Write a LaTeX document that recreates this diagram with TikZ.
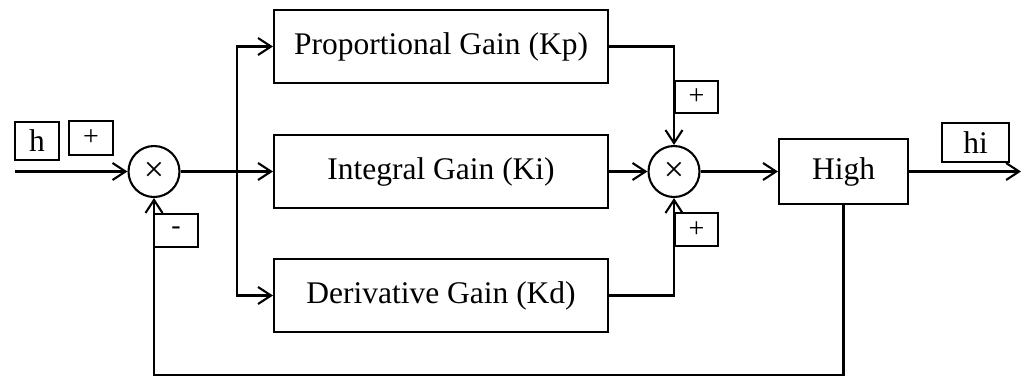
\documentclass[tikz,border=0pt]{standalone}
\usepackage{fontspec}
\setmainfont{Liberation Serif}
\usetikzlibrary{arrows.meta}
\begin{document}
\begin{tikzpicture}[x=1pt,y=-1pt,
  line width=2.1pt,
  blk/.style={draw, rectangle, inner sep=0pt, font=\fontsize{31.5}{36}\selectfont},
  tagbox/.style={draw, rectangle, inner sep=0pt, line width=1.8pt},
  bigtag/.style={tagbox, font=\fontsize{31.5}{36}\selectfont},
  smalltag/.style={tagbox, font=\fontsize{28}{30}\selectfont},
  junction/.style={draw, circle, inner sep=0pt, minimum size=51pt, font=\fontsize{36}{38}\selectfont},
  arr/.style={-{Straight Barb[length=13pt,width=17pt]}}
]
\useasboundingbox (0,0) rectangle (1027,376);

% gain blocks
\node[blk, minimum width=334pt, minimum height=73pt] (kp) at (441,46.5) {Proportional Gain (Kp)};
\node[blk, minimum width=334pt, minimum height=73pt] (ki) at (441,171.5) {Integral Gain (Ki)};
\node[blk, minimum width=334pt, minimum height=73pt] (kd) at (441,295.5) {Derivative Gain (Kd)};
\node[blk, minimum width=129pt, minimum height=65pt] (high) at (843.5,171.5) {High};

% summing junctions
\node[junction] (s1) at (154,171.5) {×};
\node[junction] (s2) at (674,171.5) {×};

% signal and sign tags
\node[bigtag, minimum width=44pt, minimum height=38pt] (th) at (37,141) {h};
\node[smalltag, minimum width=44pt, minimum height=34pt] (tp1) at (91,138) {+};
\node[smalltag, minimum width=44pt, minimum height=33pt] (tm) at (176,230.5) {-};
\node[smalltag, minimum width=43pt, minimum height=32pt] (tp2) at (696.5,97) {+};
\node[smalltag, minimum width=43pt, minimum height=33pt] (tp3) at (696.5,229.5) {+};
\node[bigtag, minimum width=67pt, minimum height=39pt] (thi) at (975.5,142.5) {hi};

% free ends and routing points
\coordinate (in) at (15,171.5);
\coordinate (out) at (1021,171.5);
\coordinate (split) at (237,171.5);
\coordinate (fb) at (0,375);

% forward path
\draw[arr] (in) -- (s1);
\draw (s1) -- (split);
\draw[arr] (split) -- (ki);
\draw[arr] (split) |- (kp.west);
\draw[arr] (split) |- (kd.west);
\draw[arr] (kp.east) -| (s2.north);
\draw[arr] (ki.east) -- (s2);
\draw[arr] (kd.east) -| (s2.south);
\draw[arr] (s2) -- (high);
\draw[arr] (high) -- (out);

% feedback path
\draw[arr] (high.south) -- (high.south |- fb) -| (s1.south);
\end{tikzpicture}
\end{document}
